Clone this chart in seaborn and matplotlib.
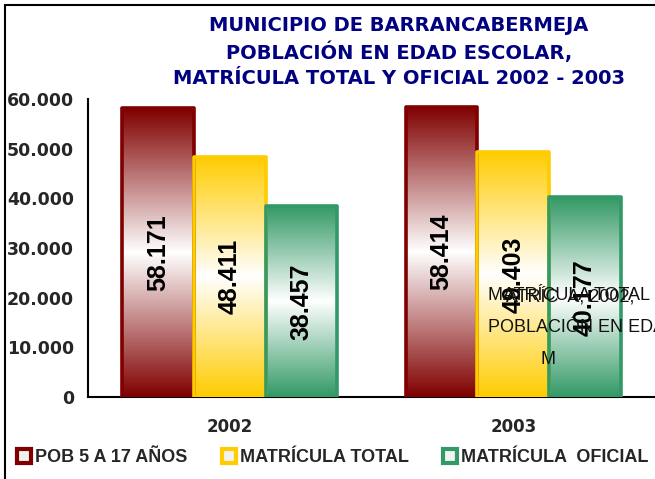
import numpy as np
import pandas as pd
import matplotlib
matplotlib.use("Agg")
import matplotlib.pyplot as plt
import seaborn as sns
from matplotlib.colors import LinearSegmentedColormap
from matplotlib.lines import Line2D
from matplotlib.patches import Rectangle

# --- data ---
years = ["2002", "2003"]
series = ["POB 5 A 17 AÑOS", "MATRÍCULA TOTAL", "MATRÍCULA  OFICIAL"]
pob_5_17 = [58171, 58414]
matricula_total = [48411, 49403]
matricula_oficial = [38457, 40177]
colors = ["#800000", "#FFCC00", "#339966"]
yticks = [0, 10000, 20000, 30000, 40000, 50000, 60000]

title = "MUNICIPIO DE BARRANCABERMEJA\nPOBLACIÓN EN EDAD ESCOLAR,\nMATRÍCULA TOTAL Y OFICIAL 2002 - 2003"

df = pd.DataFrame({
    "year": years * 3,
    "serie": [s for s in series for _ in years],
    "value": pob_5_17 + matricula_total + matricula_oficial,
})

sns.set_style("white")
plt.rcParams["font.family"] = ["DejaVu Sans"]
arial = ["Liberation Sans", "DejaVu Sans"]

W, H = 655, 479
fig = plt.figure(figsize=(W / 100, H / 100), dpi=100)
ax = fig.add_axes([88 / W, (H - 397) / H, 567 / W, 298 / H])

sns.barplot(data=df, x="year", y="value", hue="serie", hue_order=series,
            order=years, palette=colors, width=0.76, ax=ax, legend=False,
            saturation=1)

ax.set_ylim(0, 60000)
ax.set_xlim(-0.5, 1.5)

def fmt(v):
    return f"{v:,.0f}".replace(",", ".")

# gradient fill: colour at top and bottom, white in the middle
for i, patch in enumerate(ax.patches):
    x0, y0 = patch.get_x(), patch.get_y()
    w, h = patch.get_width(), patch.get_height()
    if h <= 0:
        continue
    col = colors[i // len(years)]
    cmap = LinearSegmentedColormap.from_list("g", [col, "white", col])
    grad = np.linspace(0, 1, 256).reshape(-1, 1)
    im = ax.imshow(grad, cmap=cmap, aspect="auto", extent=(x0, x0 + w, y0, y0 + h),
                   origin="lower", zorder=2, interpolation="bilinear")
    im.set_clip_path(patch)
    patch.set_facecolor("none")
    patch.set_edgecolor(col)
    patch.set_linewidth(2.6)
    patch.set_joinstyle("round")
    patch.set_zorder(3)
    ax.text(x0 + w / 2, y0 + h / 2, fmt(h), rotation=90, ha="center", va="center",
            family=arial, fontsize=18, fontweight="bold", color="black", zorder=4)

ax.set_aspect("auto")
ax.set_xlabel("")
ax.set_ylabel("")
ax.set_yticks(yticks)
ax.set_yticklabels([fmt(v) for v in yticks], fontsize=12.5, fontweight="bold")
ax.set_xticks([-0.5, 0.5, 1.5])
ax.set_xticklabels([])
ax.set_xticks([0, 1], minor=True)
ax.set_xticklabels(years, minor=True, fontsize=12, fontweight="bold")
ax.tick_params(axis="x", which="minor", length=0, pad=15)
ax.tick_params(axis="x", which="major", direction="out", length=5, width=1.2, color="black")
ax.tick_params(axis="y", direction="out", length=5, width=1.2, color="black", pad=5)
for s in ["top", "right"]:
    ax.spines[s].set_visible(False)
for s in ["left", "bottom"]:
    ax.spines[s].set_color("black")
    ax.spines[s].set_linewidth(1.5)
ax.grid(False)

# title
fig.text(399 / W, 1 - 52 / H, title, ha="center", va="center", fontsize=14,
         fontweight="bold", color="#000080", linespacing=1.36)

# stray data-label text visible in the original
fig.text(488 / W, 1 - 296 / H, "MATRÍCULA TOTAL", family=arial,
         fontsize=13, ha="left", va="center", color="#111111")
fig.text(506 / W, 1 - 296 / H, "ATRÍC  A; 2002;", family=arial,
         fontsize=13, ha="left", va="center", color="#111111")
fig.text(488 / W, 1 - 328 / H, "POBLACIÓN EN EDAD", family=arial,
         fontsize=13, ha="left", va="center", color="#111111")
fig.text(548 / W, 1 - 360 / H, "M", family=arial,
         fontsize=13, ha="center", va="center", color="#111111")

# legend
handles = [Line2D([], [], marker="s", linestyle="none", markersize=10,
                  markerfacecolor="#f2f2f2", markeredgecolor=c, markeredgewidth=3)
           for c in colors]
leg = fig.legend(handles, series, loc="lower left", bbox_to_anchor=(5 / W, 0.0),
                 ncol=3, frameon=False, handlelength=0.7, handletextpad=0.25,
                 columnspacing=1.95, borderaxespad=0.3,
                 prop={"family": arial, "weight": "bold", "size": 13})

# outer chart border
fig.patches.append(Rectangle((5 / W, -0.1), 1.2, 1 - 5 / H + 0.1,
                             transform=fig.transFigure, fill=False,
                             edgecolor="black", linewidth=1.5))

fig.savefig("out.png", dpi=100)
